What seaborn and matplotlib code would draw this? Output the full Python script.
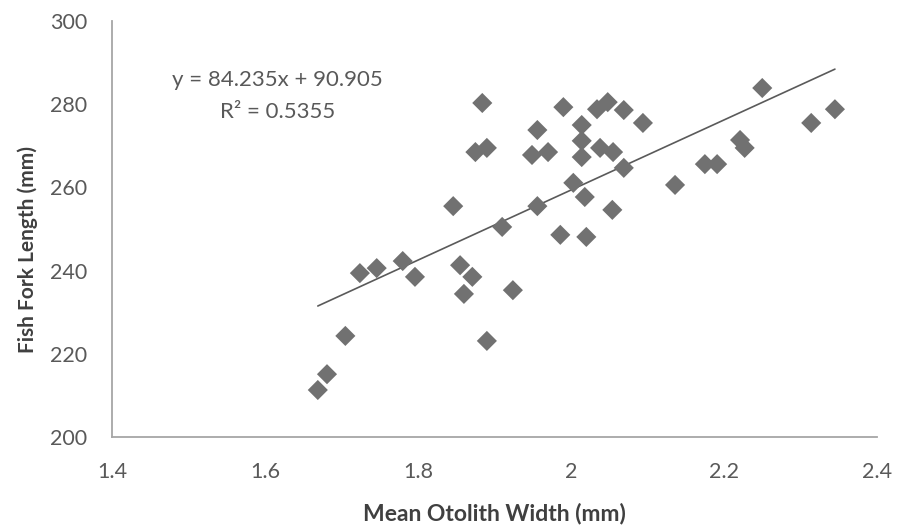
import matplotlib
matplotlib.use("Agg")
import matplotlib.pyplot as plt
import seaborn as sns
import numpy as np
import pandas as pd

# Mean otolith width (mm)
otolith_width = [
    1.669, 1.681, 1.705, 1.724, 1.746, 1.780, 1.796, 1.846, 1.855, 1.860,
    1.871, 1.875, 1.890, 1.884, 1.890, 1.910, 1.924, 1.949, 1.956, 1.956,
    1.970, 1.986, 1.990, 2.003, 2.018, 2.020, 2.014, 2.014, 2.014, 2.034,
    2.048, 2.069, 2.094, 2.038, 2.055, 2.069, 2.054, 2.136, 2.175, 2.191,
    2.221, 2.227, 2.250, 2.314, 2.345,
]
# Fish fork length (mm)
fork_length = [
    211.3, 215.1, 224.3, 239.4, 240.6, 242.3, 238.5, 255.5, 241.3, 234.4,
    238.5, 268.5, 269.5, 280.3, 223.1, 250.5, 235.3, 267.8, 273.8, 255.5,
    268.5, 248.6, 279.3, 261.1, 257.7, 248.1, 275.0, 271.2, 267.3, 278.8,
    280.5, 278.6, 275.5, 269.5, 268.5, 264.7, 254.6, 260.6, 265.6, 265.6,
    271.4, 269.5, 283.9, 275.5, 278.8,
]

# trend line as printed on the chart
slope = 84.235
intercept = 90.905
r_squared = 0.5355

x_ticks = [1.4, 1.6, 1.8, 2.0, 2.2, 2.4]
x_tick_labels = ["1.4", "1.6", "1.8", "2", "2.2", "2.4"]
y_ticks = [200, 220, 240, 260, 280, 300]

df = pd.DataFrame({"width": otolith_width, "length": fork_length})

sns.set_style("white")
plt.rcParams["font.family"] = ["Lato", "DejaVu Sans"]

fig = plt.figure(figsize=(8.97, 5.26), dpi=100)
ax = fig.add_axes([0.1249, 0.1692, 0.8528, 0.7908])

sns.scatterplot(data=df, x="width", y="length", marker="D", s=105,
                color="#717171", edgecolor="none", ax=ax, zorder=3)

line_x = np.array([df["width"].min(), df["width"].max()])
sns.lineplot(x=line_x, y=slope * line_x + intercept, color="#5a5a5a",
             linewidth=1.2, ax=ax, zorder=2)

ax.set_xlim(1.4, 2.4)
ax.set_ylim(200, 300)
ax.set_xticks(x_ticks)
ax.set_xticklabels(x_tick_labels)
ax.set_yticks(y_ticks)
ax.tick_params(length=0, labelsize=15.5, labelcolor="#595959")
ax.tick_params(axis="x", pad=18)
ax.tick_params(axis="y", pad=18)

for side in ["top", "right"]:
    ax.spines[side].set_visible(False)
for side in ["left", "bottom"]:
    ax.spines[side].set_color("#a6a6a6")
    ax.spines[side].set_linewidth(1.3)

ax.set_xlabel("Mean Otolith Width (mm)", fontsize=16.5, fontweight="bold",
              color="#404040")
ax.set_ylabel("Fish Fork Length (mm)", fontsize=15, fontweight="bold",
              color="#404040")
ax.xaxis.set_label_coords(0.5, -0.158)
ax.yaxis.set_label_coords(-0.097, 0.45)

ax.text(1.616, 285.8, f"y = {slope}x + {intercept}", ha="center", va="center",
        fontsize=16, color="#595959")
ax.text(1.616, 278.1, f"R\u00b2 = {r_squared}", ha="center", va="center",
        fontsize=16, color="#595959")

fig.savefig("out.png", dpi=100)
